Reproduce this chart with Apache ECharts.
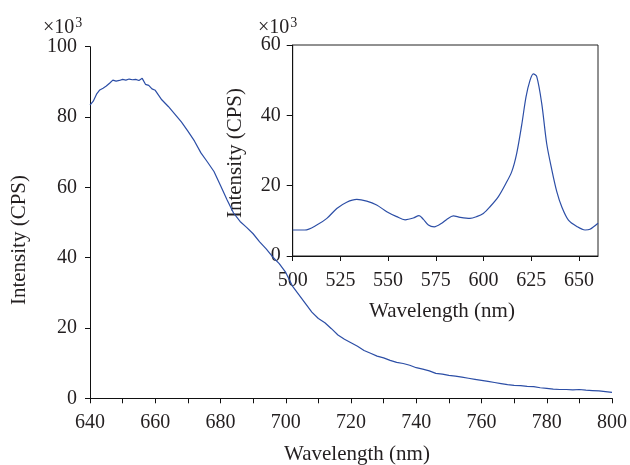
<!DOCTYPE html>
<html>
<head>
<meta charset="utf-8">
<script src="https://cdn.jsdelivr.net/npm/echarts@6/dist/echarts.min.js"></script>
<style>html,body{margin:0;padding:0;background:#fff}#c{width:630px;height:465px}</style>
</head>
<body>
<div id="c"></div>
<script>
// Main spectrum (wavelength nm, intensity x10^3 CPS)
const mainWavelength = [640,641,642,643,644,645,646,647,648,649,650,651,652,653,654,655,656,657,658,659,660,662,664,666,668,670,672,674,676,678,680,682,684,686,688,690,692,694,696,698,700,702,704,706,708,710,712,714,716,718,720,722,724,726,728,730,732,734,736,738,740,742,744,746,748,750,752,754,756,758,760,762,764,766,768,770,772,774,776,778,780,782,784,786,788,790,792,794,796,798,800];
const mainIntensity = [83.4,84.5,86.5,87.7,88.2,88.8,89.6,90.5,90.2,90.4,90.7,90.5,90.8,90.6,90.7,90.4,91.0,89.3,89.0,88.0,87.6,84.9,83.0,80.8,78.6,76.0,73.2,69.8,67.2,64.5,60.5,56.5,52.7,50.3,48.6,46.8,44.5,42.5,40.2,38.3,35.8,32.0,29.5,27.0,24.5,22.7,21.5,19.8,18.0,16.8,15.8,14.8,13.6,12.8,12.0,11.5,10.8,10.2,9.9,9.4,8.7,8.3,7.8,7.1,6.9,6.5,6.3,6.0,5.7,5.4,5.1,4.8,4.5,4.2,3.9,3.7,3.6,3.4,3.3,3.0,2.8,2.6,2.5,2.5,2.4,2.5,2.3,2.2,2.1,1.9,1.7];

// Inset spectrum
const insetWavelength = [500,506.4,512.6,517.9,523.1,528.3,533.6,538.8,544,549.3,554.5,558.9,563.2,566.2,568.5,571.1,574.2,578.1,580.7,584.2,587.7,592.9,596.4,599.9,603.4,607.8,611.3,614.8,617.4,620,622.3,624.4,626.1,627.9,630.5,633.1,635.8,638.4,641,644.5,648.9,653.2,655.8,660];
const insetIntensity = [7.4,7.4,8.8,10.7,13.5,15.3,16.1,15.6,14.5,12.6,11.2,10.3,10.8,11.5,10.4,8.8,8.3,9.3,10.4,11.4,11.0,10.7,11.2,12.1,14.0,16.9,20.2,24.0,29.2,37.2,45.3,50.0,51.8,51.0,43.4,32.0,24.5,18.3,14.0,10.2,8.4,7.4,7.6,9.3];

const mainXTicks = [640,660,680,700,720,740,760,780,800];
const mainYTicks = [0,20,40,60,80,100];
const insetXTicks = [500,525,550,575,600,625,650];
const insetYTicks = [0,20,40,60];

const FONT = 'Liberation Serif';
const TXT = '#231f20';
const LINE = '#2c4ea6';

const toPairs = (xs, ys) => xs.map((x, i) => [x, ys[i]]);

const axisBase = {
  axisLine: {show: true, lineStyle: {color: '#111', width: 1}},
  axisTick: {show: true, inside: false, length: 5, lineStyle: {color: '#111'}},
  axisLabel: {color: TXT, fontFamily: FONT, fontSize: 20},
  splitLine: {show: false}
};

const titleFont = '21px "' + FONT + '"';
const expText = (x, y) => ({
  type: 'text', x: x, y: y,
  style: {
    text: '{a|×10}{b|3}', fill: TXT, textAlign: 'left', textVerticalAlign: 'bottom',
    rich: {
      a: {fontFamily: FONT, fontSize: 20, fill: TXT, verticalAlign: 'bottom'},
      b: {fontFamily: FONT, fontSize: 14, fill: TXT, verticalAlign: 'top', padding: [0, 0, 8, 1]}
    }
  }
});

const chart = echarts.init(document.getElementById('c'), null, {renderer: 'canvas'});
chart.setOption({
  animation: false,
  backgroundColor: '#fff',
  grid: [
    {left: 90, top: 46.7, width: 522.5, height: 351.6},
    {left: 292.7, top: 45, width: 305.3, height: 211, show: true, borderColor: '#222', borderWidth: 1, backgroundColor: 'transparent'}
  ],
  xAxis: [
    Object.assign({}, axisBase, {
      type: 'value', gridIndex: 0, min: 640, max: 800, interval: 20,
      minorTick: {show: true, splitNumber: 2, length: 5, lineStyle: {color: '#111'}},
      axisLabel: Object.assign({}, axisBase.axisLabel, {margin: 14, customValues: mainXTicks}),
      axisTick: Object.assign({}, axisBase.axisTick, {length: 5})
    }),
    Object.assign({}, axisBase, {
      type: 'value', gridIndex: 1, min: 500, max: 660, interval: 25,
      axisLabel: Object.assign({}, axisBase.axisLabel, {margin: 15, customValues: insetXTicks}),
      axisTick: Object.assign({}, axisBase.axisTick, {length: 5, customValues: insetXTicks})
    })
  ],
  yAxis: [
    Object.assign({}, axisBase, {
      type: 'value', gridIndex: 0, min: 0, max: 100, interval: 20,
      axisLabel: Object.assign({}, axisBase.axisLabel, {margin: 13, customValues: mainYTicks}),
      axisTick: Object.assign({}, axisBase.axisTick, {length: 5})
    }),
    Object.assign({}, axisBase, {
      type: 'value', gridIndex: 1, min: 0, max: 60, interval: 20,
      axisLabel: Object.assign({}, axisBase.axisLabel, {margin: 12, customValues: insetYTicks}),
      axisTick: Object.assign({}, axisBase.axisTick, {length: 6})
    })
  ],
  series: [
    {type: 'line', xAxisIndex: 0, yAxisIndex: 0, data: toPairs(mainWavelength, mainIntensity),
     showSymbol: false, symbol: 'none', lineStyle: {color: LINE, width: 1.2}, z: 2},
    {type: 'line', xAxisIndex: 1, yAxisIndex: 1, data: toPairs(insetWavelength, insetIntensity),
     showSymbol: false, symbol: 'none', smooth: 0.3, lineStyle: {color: LINE, width: 1.2}, z: 3}
  ],
  graphic: [
    {type: 'text', x: 357, y: 454, style: {text: 'Wavelength (nm)', fill: TXT, font: titleFont, textAlign: 'center', textVerticalAlign: 'middle'}},
    {type: 'text', x: 19, y: 240, rotation: Math.PI / 2, style: {text: 'Intensity (CPS)', fill: TXT, font: titleFont, textAlign: 'center', textVerticalAlign: 'middle'}},
    {type: 'text', x: 442, y: 311, style: {text: 'Wavelength (nm)', fill: TXT, font: titleFont, textAlign: 'center', textVerticalAlign: 'middle'}},
    {type: 'text', x: 235, y: 153, rotation: Math.PI / 2, style: {text: 'Intensity (CPS)', fill: TXT, font: titleFont, textAlign: 'center', textVerticalAlign: 'middle'}},
    expText(43, 38),
    expText(258, 38)
  ]
});
</script>
</body>
</html>
